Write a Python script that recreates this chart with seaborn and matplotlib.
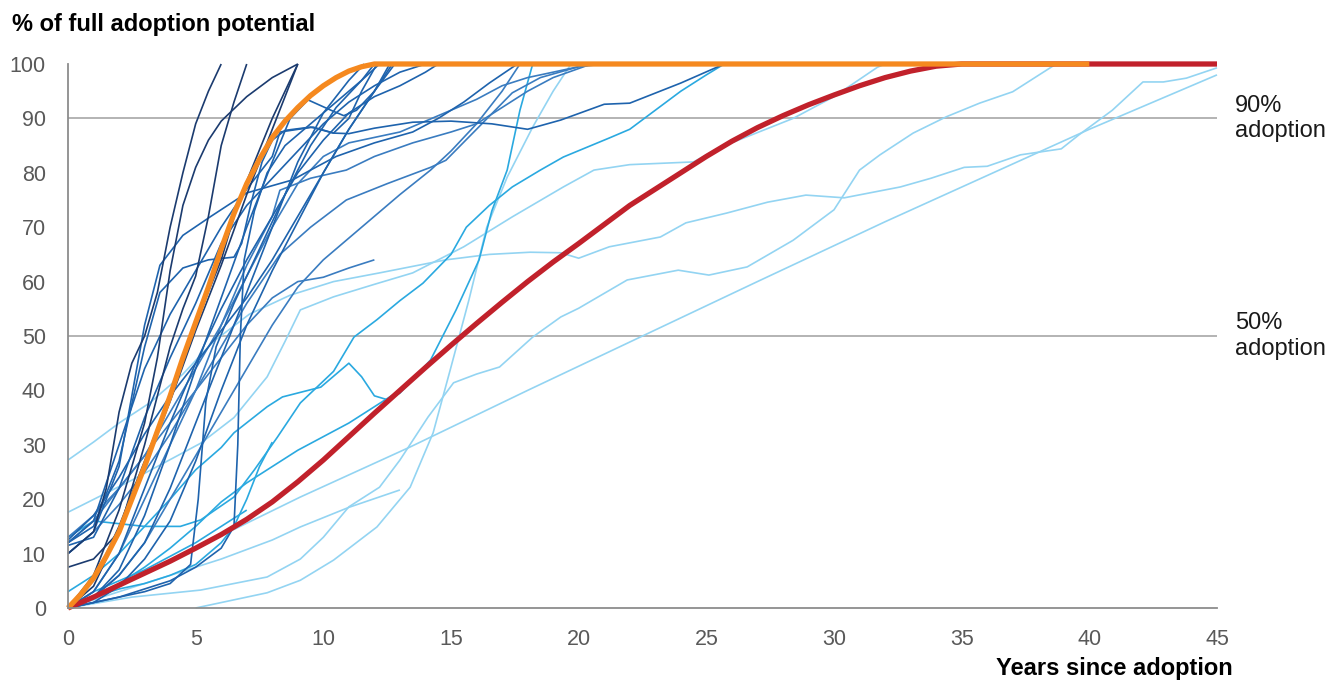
import matplotlib as mpl
mpl.use('Agg')
import matplotlib.pyplot as plt
import pandas as pd
import seaborn as sns

# adoption curves, (years since adoption, % of full adoption potential)
navy_a = [(0, 10), (1, 14), (1.5, 22), (2, 36), (2.5, 45), (3, 50), (3.5, 58),
          (4, 70), (4.5, 80), (5, 89), (5.5, 95), (6, 100)]
navy_b = [(0, 0), (1, 6), (2, 18), (3, 34), (3.5, 46), (4, 62), (4.5, 74),
          (5, 81), (5.5, 86), (6, 89.5), (7, 94), (8, 97.5), (9, 100)]
navy_c = [(0, 0), (1, 4), (2, 14), (3, 30), (4, 48), (4.5, 55), (5, 61),
          (5.5, 72), (6, 85), (6.5, 93), (7, 100)]
navy_d = [(0, 0), (1, 5), (2, 15), (3, 27), (4, 39), (4.8, 50), (6, 64),
          (6.7, 75), (8, 90), (9, 100)]
navy_e = [(0, 7.5), (1, 9), (2, 14), (3, 26), (4, 38), (5, 51), (6, 63),
          (7, 76), (8, 88), (9, 100)]

med_a = [(0, 12), (1, 15), (2, 27), (3, 48), (3.6, 58), (4.5, 62.5),
         (5.5, 64), (6.5, 64.5), (6.8, 67), (7.2, 75), (7.6, 82), (8, 86),
         (8.5, 87.8), (9.5, 88.4), (10.4, 87.3), (11, 87.2), (12, 88.2),
         (13.5, 89.3), (15, 89.5), (16.6, 89), (18, 88), (19.3, 89.7),
         (21, 92.6), (22, 92.8), (24, 96.5), (25.7, 100)]
med_b = [(0, 0), (1, 2), (2, 7), (3, 17), (4, 30), (5, 44), (6, 57), (7, 70),
         (8, 82), (8.7, 90), (9.4, 93.4), (10.3, 91.5), (10.8, 90.5),
         (11.3, 91.5), (12, 95), (12.8, 100)]
med_c = [(0, 0), (1, 1), (2, 2), (3, 3.5), (4, 5), (5, 7.5), (6, 11),
         (6.5, 15), (6.65, 30), (6.75, 50), (6.9, 64), (7.3, 73), (7.8, 80),
         (8.5, 85), (9.5, 89), (10.5, 93), (11.5, 97), (12, 100)]
med_d = [(0, 0), (1, 1), (2, 2), (3, 3), (4, 4.5), (4.8, 8), (5.1, 20),
         (5.4, 38), (5.8, 48), (6.5, 56), (7.5, 66), (8.5, 76), (9.5, 85),
         (10.5, 92), (11.5, 97), (12.2, 100)]
med_e = [(0, 12.5), (1, 17), (2, 24), (3, 32), (4, 39), (5, 45), (6, 51),
         (7, 57), (8, 64), (9, 72), (10, 80), (11, 88), (12, 95), (12.6, 100)]
med_f = [(0, 11.5), (1, 13), (2, 22), (3, 35), (4, 46), (5, 56), (6, 67),
         (7, 74), (8, 79), (9, 84), (10, 89), (11, 93), (12, 96), (13, 98.5),
         (14, 100)]
med_g = [(0, 0), (1, 1), (2, 4), (3, 9), (4, 16), (5, 27), (6, 40), (7, 52),
         (8, 62), (9, 71), (10, 80), (11, 88), (12, 95), (12.7, 100)]
med_h = [(0, 0), (1, 2), (2, 6), (3, 12), (4, 22), (5, 34), (6, 46), (7, 58),
         (8, 70), (9, 82), (10, 91), (11, 97), (11.6, 100)]
med_i = [(0, 10), (1, 14), (2, 26), (3, 52), (3.6, 63), (4.5, 68.5),
         (5.6, 72), (7, 76.3), (8.8, 78.7), (9.5, 80.5), (10.5, 83),
         (12, 85.5), (13.5, 87.5), (14.5, 90), (15.5, 93), (16.5, 96.5),
         (17.6, 100)]
med_j = [(0, 12), (1, 16), (2, 30), (3, 44), (4, 54), (5, 62), (6, 70),
         (7, 77), (8, 83), (8.3, 87.5), (9.6, 88.4), (10.4, 87.3), (11, 90),
         (11.5, 95), (12.1, 100)]
med_k = [(0, 0), (1, 3), (2, 10), (3, 22), (4, 34), (5, 45), (6, 55), (7, 64),
         (8, 72), (9, 80), (10, 86), (11, 91), (12, 94), (13, 96), (14, 98.5),
         (14.5, 100)]

mid_a = [(0, 12), (1, 16), (2, 22), (3, 28), (4, 34), (5, 40), (6, 46),
         (6.5, 49), (7, 52), (8, 57), (9, 60), (10, 60.8), (11, 62.5),
         (12, 64)]
mid_b = [(0, 0), (1, 3), (2, 10), (3, 20), (4, 30), (5, 40), (6, 52), (7, 63),
         (8, 72), (8.3, 76.8), (9.5, 79), (10.9, 80.5), (12, 83), (13.5, 85.5),
         (15, 87.5), (16, 89), (17, 92), (18, 95), (19, 97.5), (20.5, 100)]
mid_c = [(0, 0), (1, 2), (2, 6), (3, 12), (4, 20), (5, 28), (6, 36), (7, 44),
         (8, 52), (9, 59), (10, 64), (11, 68), (12, 72), (13, 76),
         (14.2, 80.5), (15, 84), (16, 89), (17, 95), (17.7, 100)]
mid_d = [(0, 10), (1, 14), (2, 19), (3, 25), (4, 32), (5, 40), (6, 48),
         (7, 56), (8.3, 65), (9.5, 70), (10.9, 75), (12.5, 78), (14.2, 81),
         (14.8, 82.3), (16, 88), (17.4, 94.7), (18.5, 97.5), (20, 99.5),
         (21, 100)]
mid_e = [(0, 13), (1, 17), (2, 22), (3, 28), (4, 36), (5, 44), (6, 52),
         (7, 61), (8, 70), (9, 78), (10, 83), (11, 85.5), (12, 86.5),
         (13, 87.5), (14, 89.5), (15, 91.5), (16, 93.5), (17, 96),
         (18, 97.5), (19, 98.5), (20.5, 100)]

cyan_a = [(0, 13), (1, 16), (2, 15.5), (3, 15), (4.4, 15), (5.2, 16.2),
          (6.5, 20.4), (7.3, 25.4), (8.2, 31.4), (9.1, 37.7), (10.4, 43.5),
          (11.2, 49.8), (12.1, 53), (13, 56.5), (13.9, 59.7), (15, 65),
          (15.6, 70), (16.5, 74), (17.4, 77.4), (18.5, 80.5), (19.4, 82.9),
          (21.2, 86.4), (22, 88), (23, 91.5), (24, 95), (25, 98), (25.7, 100)]
cyan_b = [(0, 3), (1, 6), (2, 10), (3, 15), (4, 20), (5, 25.4), (6, 29.5),
          (6.5, 32.2), (7.8, 37), (8.4, 38.8), (9.9, 40.6), (10.5, 43),
          (11, 45), (11.5, 42.5), (12, 39), (12.5, 38.3), (13, 39.5),
          (14.2, 45.6), (15.2, 54.8), (16.1, 64), (16.6, 73), (17.2, 80.5),
          (17.7, 91.5), (18.2, 100)]
cyan_c = [(0, 0), (1, 2), (2, 4.5), (3, 7.5), (4, 11), (5, 15), (6, 19.5),
          (7, 23), (8, 26), (9, 29), (10, 31.5), (11, 34), (12, 37), (13, 40)]
cyan_d = [(0, 0), (1, 2), (2, 3.5), (3, 4.5), (4, 6), (5, 8), (6, 12),
          (6.5, 15), (7, 20), (7.5, 26), (8, 30.5)]
cyan_e = [(0, 0), (1, 3), (2, 5), (3, 7), (4, 9.5), (5, 12), (6, 15), (7, 18)]

sky_a = [(0, 27.2), (1, 30.5), (2, 34), (3.2, 37.7), (4.5, 43), (5.7, 49),
         (7.1, 54), (8.7, 57.5), (10.4, 60), (12.2, 61.6), (14.8, 64),
         (16.5, 65), (18.1, 65.4), (19.3, 65.3), (20, 64.3), (21.2, 66.4),
         (23.2, 68.2), (24.2, 70.8), (25.8, 72.6), (27.4, 74.6), (28.9, 75.9),
         (30.4, 75.4), (32.6, 77.4), (33.8, 79), (35.1, 81), (36, 81.2),
         (37.3, 83.3), (38.9, 84.4), (39.6, 87), (40.9, 91.5), (42.1, 96.7),
         (42.9, 96.7), (43.8, 97.4), (45, 99.3)]
sky_b = [(0, 17.6), (2.5, 23.5), (5.2, 30.3), (6.5, 35), (7.8, 42.5),
         (8.5, 49), (9.1, 54.8), (10.4, 57.2), (12, 59.5), (13.5, 61.6),
         (15.5, 66.4), (17.4, 71.9), (19.4, 77.4), (20.6, 80.5), (22, 81.5),
         (24.5, 82), (25.5, 84.6), (28.4, 90), (30, 94), (31.7, 99.4),
         (32, 100)]
sky_c = [(0, 0), (2.5, 2), (5.2, 3.3), (7.8, 5.7), (9.1, 9), (10, 13),
         (11, 18.6), (12.2, 22.2), (13, 27.2), (14.1, 35.1), (15.1, 41.4),
         (16, 43), (16.9, 44.3), (18.2, 49.8), (19.3, 53.5), (20, 55.1),
         (21.9, 60.3), (23.9, 62.1), (25.1, 61.2), (26.6, 62.7), (28.4, 67.6),
         (30, 73.2), (31, 80.5), (31.8, 83.3), (33.1, 87.3), (34.4, 90.3),
         (35.7, 92.8), (37, 94.9), (38.7, 100)]
sky_d = [(0, 0), (5, 11), (9.1, 20.4), (13.4, 29.6), (18, 40), (22.5, 50),
         (27, 60), (32, 71), (36, 79.5), (40, 88), (45, 98)]
sky_e = [(5, 0), (7.8, 2.8), (9.1, 5.1), (10.4, 8.8), (12.1, 14.9),
         (13.4, 22.2), (14.3, 32.2), (15, 44.3), (15.7, 56.6), (16.4, 70),
         (17.2, 79.2), (18.2, 88.4), (19, 95), (19.7, 100)]
sky_f = [(0, 0), (2, 3), (4, 6), (6, 9), (8, 12.5), (9.1, 14.9), (11, 18.5),
         (13, 21.7)]

# the two highlighted reference curves
fast_curve = [(0, 0), (0.5, 2.5), (1, 5.5), (1.5, 9.5), (2, 14), (2.5, 20),
              (3, 26), (3.5, 32.5), (4, 39), (4.5, 46), (5, 52.5), (5.5, 59),
              (6, 66), (6.5, 72.5), (7, 78), (7.5, 82.5), (8, 86.5),
              (8.5, 89.5), (9, 92), (9.5, 94.2), (10, 96), (10.5, 97.5),
              (11, 98.7), (11.5, 99.5), (12, 100), (40, 100)]
slow_curve = [(0, 0), (1, 2), (2, 4.2), (3, 6.4), (4, 8.6), (5, 11),
              (6, 13.5), (7, 16.3), (8, 19.5), (9, 23.2), (10, 27.2),
              (11, 31.5), (12, 35.8), (13, 40), (14, 44.2), (15, 48.3),
              (16, 52.3), (17, 56.2), (18, 60), (19, 63.6), (20, 67),
              (21, 70.5), (22, 74), (23, 77), (24, 80), (25, 83), (26, 85.8),
              (27, 88.3), (28, 90.5), (29, 92.5), (30, 94.3), (31, 96),
              (32, 97.5), (33, 98.7), (34, 99.6), (35, 100), (45, 100)]

groups = [
    ('#93d4f2', [sky_a, sky_b, sky_c, sky_d, sky_e, sky_f]),
    ('#2aa9e0', [cyan_a, cyan_b, cyan_c, cyan_d, cyan_e]),
    ('#3a7cc0', [mid_a, mid_b, mid_c, mid_d, mid_e]),
    ('#1e63ad', [med_a, med_b, med_c, med_d, med_e, med_f, med_g, med_h,
                 med_i, med_j, med_k]),
    ('#1b3b6f', [navy_a, navy_b, navy_c, navy_d, navy_e]),
]


def main():
    rows = []
    palette = {}
    order = []
    for gi, (colour, curves) in enumerate(groups):
        for ci, curve in enumerate(curves):
            name = 'g{}_{}'.format(gi, ci)
            palette[name] = colour
            order.append(name)
            for yr, val in curve:
                rows.append({'series': name, 'year': yr, 'share': val})
    df = pd.DataFrame(rows)

    sns.set_style('white')
    plt.rcParams['font.family'] = ['Liberation Sans', 'DejaVu Sans']

    fig = plt.figure(figsize=(13.32, 6.82), dpi=100)
    ax = fig.add_axes([68 / 1332, 74 / 682, 1149 / 1332, 544 / 682])

    ax.axhline(50, color='#b3b3b3', linewidth=1.4, zorder=0.5)
    ax.axhline(90, color='#b3b3b3', linewidth=1.4, zorder=0.5)

    sns.lineplot(data=df, x='year', y='share', hue='series', hue_order=order,
                 palette=palette, estimator=None, sort=False, legend=False,
                 linewidth=1.2, ax=ax)

    slow_df = pd.DataFrame(slow_curve, columns=['year', 'share'])
    fast_df = pd.DataFrame(fast_curve, columns=['year', 'share'])
    sns.lineplot(data=slow_df, x='year', y='share', color='#c1212b',
                 linewidth=3.8, estimator=None, sort=False, ax=ax)
    sns.lineplot(data=fast_df, x='year', y='share', color='#f5891f',
                 linewidth=3.8, estimator=None, sort=False, ax=ax)

    for ln in ax.lines:
        ln.set_clip_on(False)
        ln.set_solid_capstyle('butt')
        ln.set_solid_joinstyle('round')

    ax.set_xlim(0, 45)
    ax.set_ylim(0, 100)
    ax.set_xticks(range(0, 46, 5))
    ax.set_yticks(range(0, 101, 10))
    ax.set_xlabel('')
    ax.set_ylabel('')

    for side in ['top', 'right']:
        ax.spines[side].set_visible(False)
    for side in ['left', 'bottom']:
        ax.spines[side].set_color('#8c8c8c')
        ax.spines[side].set_linewidth(1.3)

    ax.tick_params(axis='both', direction='in', length=5, width=1.3,
                   color='#8c8c8c', labelcolor='#595959', labelsize=15.5)
    ax.tick_params(axis='y', pad=16)
    ax.tick_params(axis='x', pad=15)

    ax.text(45.7, 90, '90%\nadoption', ha='left', va='center', fontsize=17,
            color='#1a1a1a', linespacing=1.2)
    ax.text(45.7, 50, '50%\nadoption', ha='left', va='center', fontsize=17,
            color='#1a1a1a', linespacing=1.2)

    fig.text(12 / 1332, 1 - 24 / 682, '% of full adoption potential',
             ha='left', va='center', fontsize=17, fontweight='bold',
             color='black')
    fig.text(1233 / 1332, 1 - 669 / 682, 'Years since adoption',
             ha='right', va='center', fontsize=17, fontweight='bold',
             color='black')

    fig.savefig('out.png', dpi=100, facecolor='white')
    plt.close()


if __name__ == "__main__":
    main()
